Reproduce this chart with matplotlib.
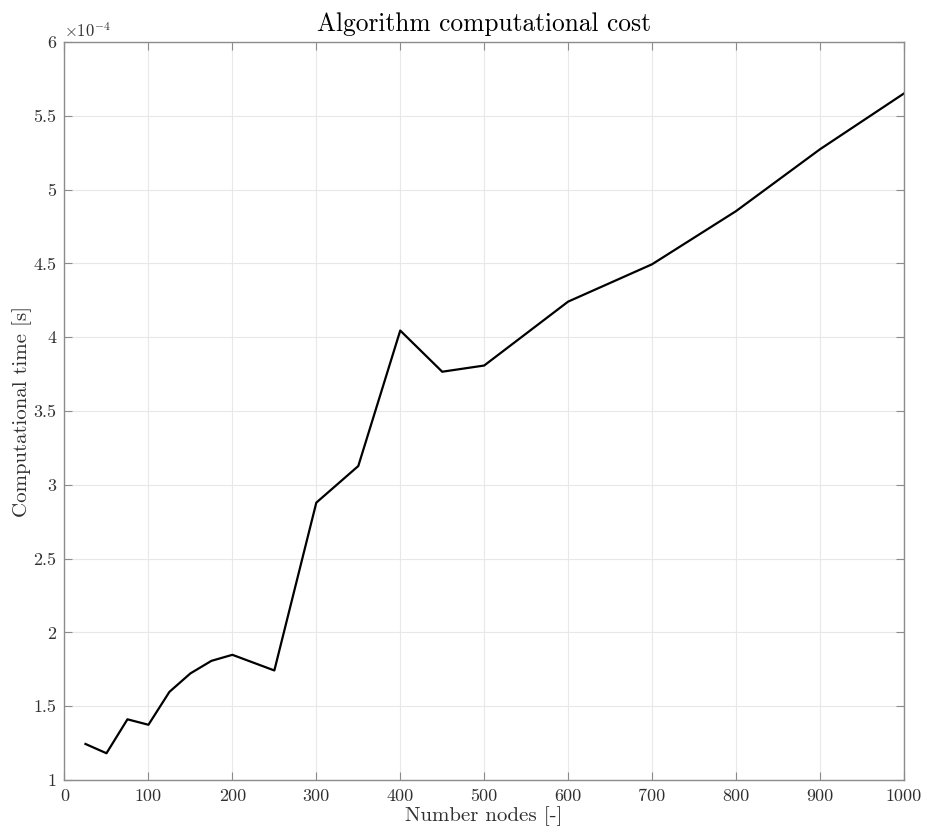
import matplotlib
matplotlib.use("Agg")
import matplotlib.pyplot as plt
from matplotlib.ticker import FuncFormatter, MultipleLocator

plt.rcParams["font.family"] = ["cmr10", "DejaVu Serif"]
plt.rcParams["mathtext.fontset"] = "cm"
plt.rcParams["axes.unicode_minus"] = False

# Number of nodes and measured computational time (seconds)
nodes = [25, 50, 75, 100, 125, 150, 175, 200, 250, 300, 350, 400, 450, 500,
         600, 700, 800, 900, 1000]
time_s = [1.244e-4, 1.181e-4, 1.411e-4, 1.374e-4, 1.597e-4, 1.722e-4,
          1.807e-4, 1.848e-4, 1.742e-4, 2.879e-4, 3.127e-4, 4.045e-4,
          3.766e-4, 3.808e-4, 4.241e-4, 4.494e-4, 4.854e-4, 5.273e-4,
          5.651e-4]

title = "Algorithm computational cost"
xlabel = "Number nodes [-]"
ylabel = "Computational time [s]"

fig = plt.figure(figsize=(9.28, 8.35), dpi=100)
ax = fig.add_axes([0.0695, 0.0659, 0.9045, 0.8838])

ax.plot(nodes, time_s, color="black", lw=1.6)

ax.set_xlim(0, 1000)
ax.set_ylim(1e-4, 6e-4)
ax.xaxis.set_major_locator(MultipleLocator(100))
ax.yaxis.set_major_locator(MultipleLocator(0.5e-4))
ax.yaxis.set_major_formatter(FuncFormatter(lambda v, p: f"{v / 1e-4:g}"))

axis_color = "#8c8c8c"
for s in ax.spines.values():
    s.set_color(axis_color)
    s.set_linewidth(1.0)
ax.tick_params(direction="in", length=6, width=0.8, color=axis_color,
               top=True, right=True, labelsize=13, labelcolor="#303030",
               pad=6)
ax.grid(True, color="#e8e8e8", lw=0.8)
ax.set_axisbelow(True)

ax.text(0.0, 1.003, r"$\times10^{-4}$", transform=ax.transAxes,
        fontsize=12, color="#303030", ha="left", va="bottom")

ax.set_title(title, fontsize=18.3, color="black", pad=8)
ax.set_xlabel(xlabel, fontsize=15, color="#303030", labelpad=2)
ax.set_ylabel(ylabel, fontsize=15, color="#303030", labelpad=1)

fig.savefig("out.png", dpi=100, facecolor="white")
